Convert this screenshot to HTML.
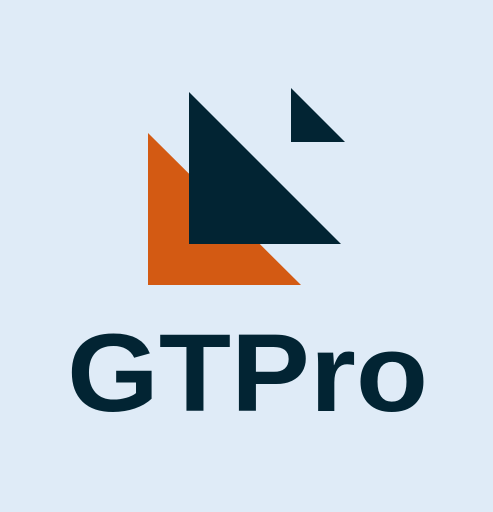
<!DOCTYPE html>
<html><head><meta charset="utf-8"><style>
html,body{margin:0;padding:0;background:#dfebf7;}
svg{display:block;}
</style></head><body>
<svg width="493" height="512" viewBox="0 0 493 512">
<rect width="493" height="512" fill="#dfebf7"/>
<polygon points="148,133 148,285 301,285" fill="#d35a13"/>
<polygon points="189,92 189,244 341,244" fill="#022433"/>
<polygon points="291,88 291,142 345,142" fill="#022433"/>
<text x="67" y="411" textLength="361" lengthAdjust="spacingAndGlyphs" font-family="Liberation Sans, sans-serif" font-weight="bold" font-size="110" fill="#022433">GTPro</text>
</svg>
</body></html>
